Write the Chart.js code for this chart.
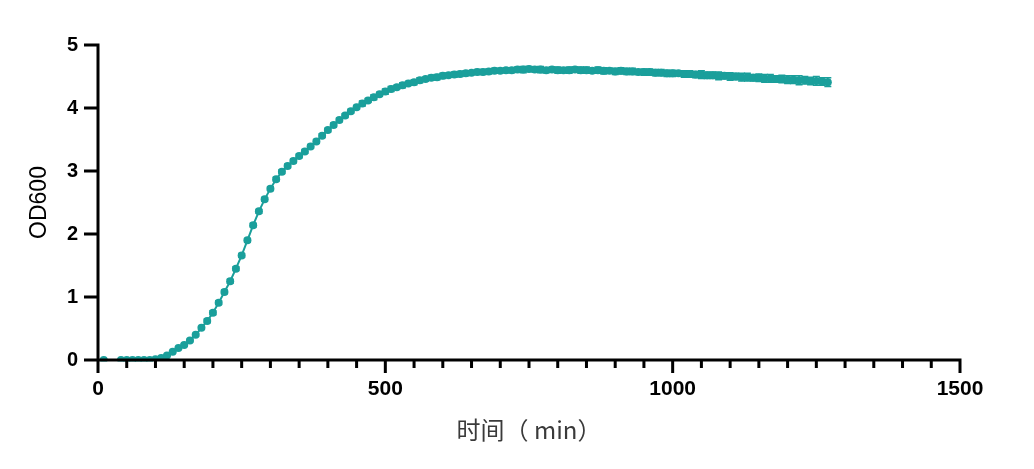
<!DOCTYPE html>
<html>
<head>
<meta charset="utf-8">
<script src="https://cdn.jsdelivr.net/npm/chart.js@4.4.0/dist/chart.umd.min.js"></script>
<style>
  html, body { margin: 0; padding: 0; background: #fff; }
  #wrap { width: 1034px; height: 469px; }
</style>
</head>
<body>
<div id="wrap"><canvas id="growthChart"></canvas></div>
<script>
// time points (min)
const times = [
  10, 40, 50, 60, 70, 80, 90, 100, 110, 120,
  130, 140, 150, 160, 170, 180, 190, 200, 210, 220,
  230, 240, 250, 260, 270, 280, 290, 300, 310, 320,
  330, 340, 350, 360, 370, 380, 390, 400, 410, 420,
  430, 440, 450, 460, 470, 480, 490, 500, 510, 520,
  530, 540, 550, 560, 570, 580, 590, 600, 610, 620,
  630, 640, 650, 660, 670, 680, 690, 700, 710, 720,
  730, 740, 750, 760, 770, 780, 790, 800, 810, 820,
  830, 840, 850, 860, 870, 880, 890, 900, 910, 920,
  930, 940, 950, 960, 970, 980, 990, 1000, 1010, 1020,
  1030, 1040, 1050, 1060, 1070, 1080, 1090, 1100, 1110, 1120,
  1130, 1140, 1150, 1160, 1170, 1180, 1190, 1200, 1210, 1220,
  1230, 1240, 1250, 1260, 1270
];

// mean OD600
const od600 = [
  0.00, 0.00, 0.00, 0.00, 0.00, 0.00, 0.00, 0.01, 0.03, 0.07,
  0.13, 0.19, 0.24, 0.31, 0.40, 0.51, 0.62, 0.75, 0.91, 1.08,
  1.25, 1.45, 1.66, 1.90, 2.14, 2.36, 2.55, 2.72, 2.87, 2.99,
  3.08, 3.16, 3.24, 3.31, 3.39, 3.47, 3.56, 3.65, 3.73, 3.81,
  3.88, 3.95, 4.01, 4.07, 4.12, 4.17, 4.22, 4.26, 4.30, 4.33,
  4.36, 4.39, 4.41, 4.44, 4.46, 4.48, 4.49, 4.51, 4.52, 4.53,
  4.54, 4.55, 4.56, 4.57, 4.57, 4.58, 4.59, 4.59, 4.60, 4.60,
  4.61, 4.61, 4.62, 4.61, 4.61, 4.60, 4.61, 4.60, 4.60, 4.60,
  4.61, 4.60, 4.60, 4.59, 4.60, 4.59, 4.59, 4.58, 4.59, 4.58,
  4.58, 4.57, 4.57, 4.57, 4.56, 4.56, 4.55, 4.55, 4.55, 4.54,
  4.54, 4.53, 4.53, 4.52, 4.52, 4.51, 4.51, 4.50, 4.50, 4.49,
  4.49, 4.48, 4.48, 4.47, 4.47, 4.46, 4.46, 4.45, 4.45, 4.44,
  4.44, 4.43, 4.43, 4.42, 4.41
];

// standard deviation
const odErr = [
  0.01, 0.01, 0.01, 0.01, 0.01, 0.01, 0.01, 0.01, 0.01, 0.01,
  0.01, 0.01, 0.02, 0.02, 0.02, 0.02, 0.03, 0.03, 0.03, 0.03,
  0.03, 0.03, 0.03, 0.03, 0.03, 0.03, 0.03, 0.03, 0.03, 0.03,
  0.03, 0.03, 0.03, 0.03, 0.03, 0.03, 0.03, 0.03, 0.03, 0.03,
  0.03, 0.03, 0.03, 0.04, 0.03, 0.04, 0.03, 0.04, 0.04, 0.03,
  0.04, 0.03, 0.04, 0.04, 0.03, 0.04, 0.04, 0.04, 0.03, 0.04,
  0.04, 0.04, 0.03, 0.04, 0.04, 0.04, 0.04, 0.03, 0.04, 0.04,
  0.04, 0.05, 0.04, 0.04, 0.05, 0.04, 0.04, 0.05, 0.04, 0.05,
  0.04, 0.05, 0.05, 0.04, 0.05, 0.05, 0.04, 0.05, 0.05, 0.05,
  0.05, 0.04, 0.05, 0.05, 0.05, 0.05, 0.05, 0.05, 0.04, 0.05,
  0.05, 0.05, 0.06, 0.05, 0.05, 0.06, 0.05, 0.06, 0.05, 0.06,
  0.06, 0.05, 0.06, 0.06, 0.06, 0.05, 0.06, 0.06, 0.06, 0.07,
  0.06, 0.06, 0.07, 0.06, 0.07
];

const xTicks = [0, 500, 1000, 1500];
const yTicks = [0, 1, 2, 3, 4, 5];

const teal = '#1a9f9b';
const arial = "'Liberation Sans', Arial, sans-serif";
const points = times.map((t, i) => ({ x: t, y: od600[i] }));

// error bars, drawn under the markers
const errorBars = {
  id: 'errorBars',
  beforeDatasetsDraw(chart) {
    const ctx = chart.ctx;
    const xs = chart.scales.x, ys = chart.scales.y;
    ctx.save();
    ctx.strokeStyle = teal;
    ctx.lineWidth = 1.5;
    times.forEach((t, i) => {
      const px = xs.getPixelForValue(t);
      const top = ys.getPixelForValue(od600[i] + odErr[i]);
      const bot = ys.getPixelForValue(od600[i] - odErr[i]);
      ctx.beginPath();
      ctx.moveTo(px, top); ctx.lineTo(px, bot);
      ctx.moveTo(px - 3.5, top); ctx.lineTo(px + 3.5, top);
      ctx.moveTo(px - 3.5, bot); ctx.lineTo(px + 3.5, bot);
      ctx.stroke();
    });
    ctx.restore();
  }
};

// axis lines with major / minor tick marks
const axisFrame = {
  id: 'axisFrame',
  afterDraw(chart) {
    const ctx = chart.ctx;
    const xs = chart.scales.x, ys = chart.scales.y;
    const x0 = xs.getPixelForValue(0);
    const y0 = ys.getPixelForValue(0);
    ctx.save();
    ctx.strokeStyle = '#000';
    ctx.lineWidth = 3;
    ctx.lineCap = 'butt';
    ctx.beginPath();
    ctx.moveTo(x0, ys.getPixelForValue(5) - 1.5);
    ctx.lineTo(x0, y0);
    ctx.moveTo(x0 - 1.5, y0);
    ctx.lineTo(xs.getPixelForValue(1500) + 1.5, y0);
    yTicks.forEach(v => {
      const py = ys.getPixelForValue(v);
      ctx.moveTo(x0 - 14, py); ctx.lineTo(x0, py);
    });
    for (let v = 0; v <= 1500; v += 50) {
      const px = xs.getPixelForValue(v);
      const len = v % 500 === 0 ? 13 : 8;
      ctx.moveTo(px, y0); ctx.lineTo(px, y0 + len);
    }
    ctx.stroke();
    ctx.restore();
  }
};

new Chart(document.getElementById('growthChart'), {
  type: 'scatter',
  data: {
    datasets: [{
      data: points,
      showLine: true,
      borderColor: teal,
      borderWidth: 2,
      backgroundColor: teal,
      pointRadius: 4,
      pointStyle: 'circle',
      pointBorderWidth: 0
    }]
  },
  options: {
    responsive: true,
    maintainAspectRatio: false,
    animation: false,
    layout: { padding: { top: 45, right: 74, bottom: 0, left: 0 } },
    plugins: { legend: { display: false }, tooltip: { enabled: false } },
    scales: {
      x: {
        type: 'linear',
        min: 0, max: 1500,
        afterBuildTicks: s => { s.ticks = xTicks.map(v => ({ value: v })); },
        afterFit: s => { s.height = 109; },
        grid: { display: false, drawTicks: false },
        border: { display: false },
        ticks: {
          padding: 17,
          color: '#000',
          callback: v => String(v),
          font: { family: arial, size: 21, weight: 'bold' }
        },
        title: {
          display: true,
          text: '时间（ min）',
          color: '#3a3a3a',
          padding: { top: 0, bottom: 25 },
          font: { family: "'Noto Sans CJK SC', 'Liberation Sans'", size: 24 }
        }
      },
      y: {
        min: 0, max: 5,
        afterBuildTicks: s => { s.ticks = yTicks.map(v => ({ value: v })); },
        afterFit: s => { s.width = 98; },
        grid: { display: false, drawTicks: false },
        border: { display: false },
        ticks: {
          padding: 20,
          color: '#000',
          callback: v => String(v),
          font: { family: arial, size: 20, weight: 'bold' }
        },
        title: {
          display: true,
          text: 'OD600',
          color: '#000',
          padding: { top: 26, bottom: 0 },
          font: { family: arial, size: 23 }
        }
      }
    }
  },
  plugins: [errorBars, axisFrame]
});
</script>
</body>
</html>
